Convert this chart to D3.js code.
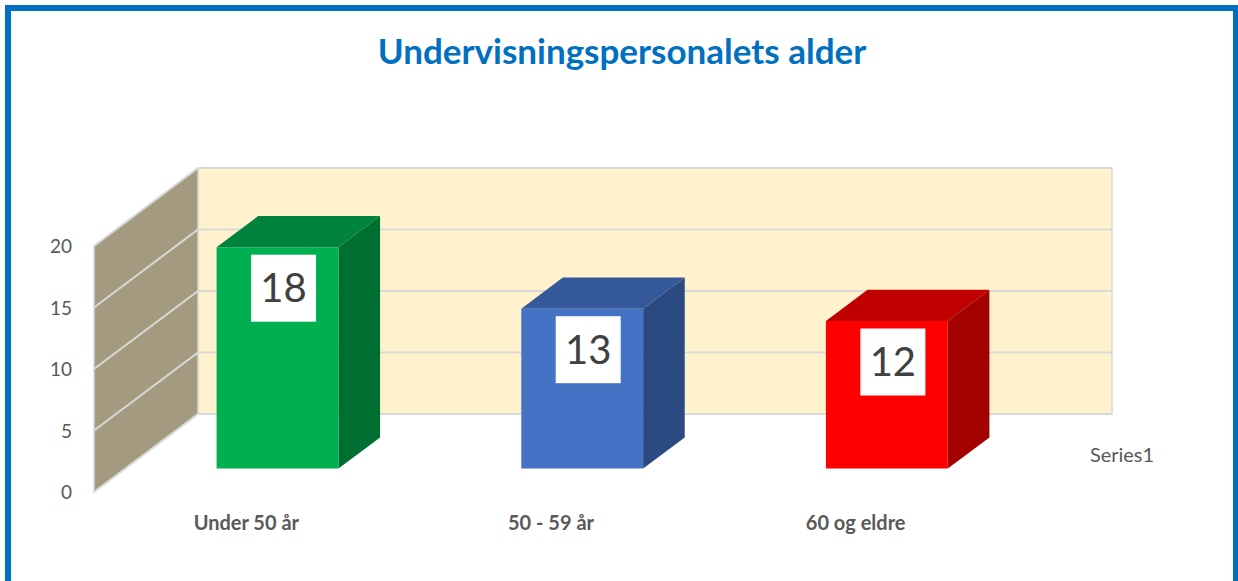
<!DOCTYPE html>
<html>
<head>
<meta charset="utf-8">
<script src="https://cdn.jsdelivr.net/npm/d3@7"></script>
<style>
  html, body { margin: 0; padding: 0; background: #fff; }
  text { font-family: Lato, "Open Sans", sans-serif; }
</style>
</head>
<body>
<svg id="chart" width="1238" height="581"></svg>
<script>
// données du graphique
const categories = ["Under 50 år", "50 - 59 år", "60 og eldre"];
const values = [18, 13, 12];
const yTicks = [0, 5, 10, 15, 20];
const seriesName = "Series1";
const title = "Undervisningspersonalets alder";

// couleurs des faces (avant, dessus, côté)
const frontColors = ["#00B050", "#4472C4", "#FF0000"];
const topColors = ["#00843D", "#34589A", "#C00000"];
const sideColors = ["#006F32", "#2B4A82", "#A30000"];

const svg = d3.select("#chart");

// cadre bleu
svg.append("rect")
  .attr("x", 8).attr("y", 8)
  .attr("width", 1228).attr("height", 600)
  .attr("fill", "none")
  .attr("stroke", "#0070C0")
  .attr("stroke-width", 6);

svg.append("text")
  .attr("x", 622).attr("y", 64)
  .attr("text-anchor", "middle")
  .attr("font-size", 35)
  .attr("font-weight", "bold")
  .attr("fill", "#0070C0")
  .text(title);

// plan avant et profondeur
const x = d3.scaleBand()
  .domain(categories)
  .range([94, 1008])
  .paddingInner(0.6)
  .paddingOuter(0.3);

const y = d3.scaleLinear()
  .domain([0, 20])
  .range([492, 246]);

const DX = 104, DY = -78;
const p = (px, v, d) => [px + d * DX, y(v) + d * DY];
const poly = pts => pts.map(q => q.join(",")).join(" ");

const [x0, x1] = x.range();
const yMax = y.domain()[1];

// mur du fond
svg.append("polygon")
  .attr("points", poly([p(x0, 0, 1), p(x0, yMax, 1), p(x1, yMax, 1), p(x1, 0, 1)]))
  .attr("fill", "#FFF2CC")
  .attr("stroke", "#D9D9D9")
  .attr("stroke-width", 1.5);

// mur de gauche
svg.append("polygon")
  .attr("points", poly([p(x0, 0, 0), p(x0, yMax, 0), p(x0, yMax, 1), p(x0, 0, 1)]))
  .attr("fill", "#A39A7F")
  .attr("stroke", "#D9D9D9")
  .attr("stroke-width", 1.5);

// lignes de grille
yTicks.forEach(t => {
  const a = p(x0, t, 0), b = p(x0, t, 1), c = p(x1, t, 1);
  svg.append("polyline")
    .attr("points", poly([a, b, c]))
    .attr("fill", "none")
    .attr("stroke", "#D9D9D9")
    .attr("stroke-width", 2);
});

// étiquettes de l'axe y
svg.append("g").selectAll("text")
  .data(yTicks)
  .enter().append("text")
  .attr("x", 72)
  .attr("y", d => y(d) + 7)
  .attr("text-anchor", "end")
  .attr("font-size", 19)
  .attr("fill", "#595959")
  .text(d => d);

// barres 3D
const dFront = 0.3, dBack = 0.7;
const bars = svg.append("g");
categories.forEach((cat, i) => {
  const v = values[i];
  const bx0 = x(cat), bx1 = x(cat) + x.bandwidth();
  // dessus
  bars.append("polygon")
    .attr("points", poly([p(bx0, v, dFront), p(bx1, v, dFront), p(bx1, v, dBack), p(bx0, v, dBack)]))
    .attr("fill", topColors[i]);
  // côté droit
  bars.append("polygon")
    .attr("points", poly([p(bx1, 0, dFront), p(bx1, v, dFront), p(bx1, v, dBack), p(bx1, 0, dBack)]))
    .attr("fill", sideColors[i]);
  // face avant
  bars.append("polygon")
    .attr("points", poly([p(bx0, 0, dFront), p(bx0, v, dFront), p(bx1, v, dFront), p(bx1, 0, dFront)]))
    .attr("fill", frontColors[i]);

  // étiquette de valeur
  const top = p(bx0, v, dFront);
  const cx = top[0] + x.bandwidth() / 2 + 6;
  const cy = top[1] + 41;
  bars.append("rect")
    .attr("x", cx - 32.5).attr("y", cy - 33.5)
    .attr("width", 65).attr("height", 67)
    .attr("fill", "#fff");
  bars.append("text")
    .attr("x", cx).attr("y", cy + 14)
    .attr("text-anchor", "middle")
    .attr("font-size", 40)
    .attr("fill", "#404040")
    .text(v);
});

// étiquettes des catégories
svg.append("g").selectAll("text")
  .data(categories)
  .enter().append("text")
  .attr("x", d => x(d) + x.bandwidth() / 2)
  .attr("y", 530)
  .attr("text-anchor", "middle")
  .attr("font-size", 20)
  .attr("font-weight", "bold")
  .attr("fill", "#595959")
  .text(d => d);

// axe des séries
svg.append("text")
  .attr("x", 1122).attr("y", 462)
  .attr("text-anchor", "middle")
  .attr("font-size", 20)
  .attr("fill", "#595959")
  .text(seriesName);
</script>
</body>
</html>
